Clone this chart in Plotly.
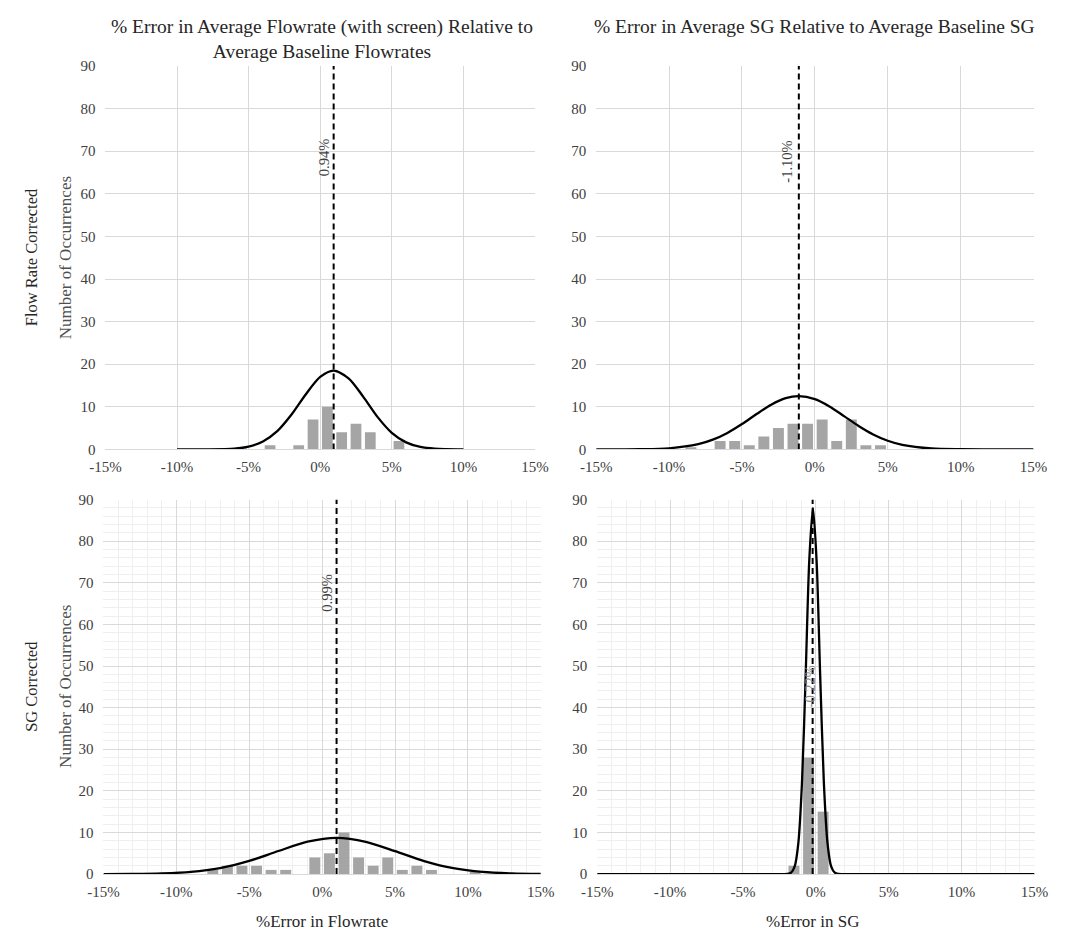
import plotly.graph_objects as go

# ---------------- data ----------------
# bin centres (% error) and counts
tl_bins = [-5.5, -3.5, -1.5, -0.5, 0.5, 1.5, 2.5, 3.5, 5.5]
tl_counts = [0.5, 1, 1, 7, 10, 4, 6, 4, 2]
tr_bins = [-8.5, -6.5, -5.5, -4.5, -3.5, -2.5, -1.5, -0.5, 0.5, 1.5, 2.5, 3.5, 4.5]
tr_counts = [0.5, 2, 2, 1, 3, 5, 6, 6, 7, 2, 7, 1, 1]
bl_bins = [-7.5, -6.5, -5.5, -4.5, -3.5, -2.5, -0.5, 0.5, 1.5, 2.5, 3.5, 4.5, 5.5, 6.5, 7.5, 10.5]
bl_counts = [1, 2, 2, 2, 1, 1, 4, 5, 10, 4, 2, 4, 1, 2, 1, 0.5]
br_bins = [-1.5, -0.5, 0.5]
br_counts = [2, 28, 15]

# normal-fit curves, points
tl_curve_x = [-10, -8, -6, -5, -4, -3, -2, -1, 0, 0.94, 2, 3, 4, 5, 6, 7, 8, 10]
tl_curve_y = [0, 0.01, 0.19, 0.66, 1.84, 4.27, 8.18, 12.96, 17.02, 18.5, 16.63, 12.39, 7.64, 3.9, 1.65, 0.57, 0.17, 0]
tr_curve_x = [-15, -12, -10, -8, -7, -6, -5, -4, -3, -2, -1.1, 0, 1, 2, 3, 4, 5, 6, 8, 10, 12, 15]
tr_curve_y = [0, 0.04, 0.26, 1.22, 2.28, 3.87, 5.95, 8.29, 10.48, 12.02, 12.5, 11.78, 10.08, 7.82, 5.5, 3.51, 2.03, 1.07, 0.22, 0.03, 0, 0]
bl_curve_x = [-15, -13, -11, -9, -7, -5, -3, -1, 0.99, 3, 5, 7, 9, 11, 13, 15]
bl_curve_y = [0.01, 0.03, 0.15, 0.51, 1.42, 3.15, 5.54, 7.78, 8.7, 7.76, 5.52, 3.13, 1.41, 0.51, 0.15, 0.03]
br_curve_x = [-15, -5, -2.2, -1.95, -1.7, -1.45, -1.2, -0.95, -0.7, -0.45, -0.2, 0.05, 0.3, 0.55, 0.8, 1.05, 1.3, 1.55, 1.8, 5, 15]
br_curve_y = [0, 0, 0, 0.05, 0.34, 1.86, 7.45, 21.95, 47.5, 75.4, 88, 75.4, 47.5, 21.95, 7.45, 1.86, 0.34, 0.05, 0, 0, 0]

means = [0.94, -1.10, 0.99, -0.22]
mean_labels = ["0.94%", "-1.10%", "0.99%", "-0.22%"]
mean_label_y = [68.5, 67.5, 67.5, 45]

x_ticks = [-15, -10, -5, 0, 5, 10, 15]
x_tick_text = ["-15%", "-10%", "-5%", "0%", "5%", "10%", "15%"]
y_ticks = [0, 10, 20, 30, 40, 50, 60, 70, 80, 90]

titles = ["% Error in Average Flowrate (with screen) Relative to<br>Average Baseline Flowrates",
          "% Error in Average SG Relative to Average Baseline SG"]
row_labels = ["Flow Rate Corrected", "SG Corrected"]
y_title = "Number of Occurrences"
x_titles = ["%Error in Flowrate", "%Error in SG"]

# ---------------- figure ----------------
W, H = 1066, 945
FONT = "Liberation Serif, Times New Roman, serif"
BAR = "#a5a5a5"
TXT = "#262626"
TICK = "#404040"

def px(v):
    return v / W

def py(v):
    return 1 - v / H

# pixel boxes of plot areas: (left, right, top, bottom)
boxes = [(92, 534, 59, 449), (597, 1047, 59, 449), (90, 540, 500, 881), (598, 1048, 500, 881)]
panels = [(tl_bins, tl_counts, tl_curve_x, tl_curve_y),
          (tr_bins, tr_counts, tr_curve_x, tr_curve_y),
          (bl_bins, bl_counts, bl_curve_x, bl_curve_y),
          (br_bins, br_counts, br_curve_x, br_curve_y)]
label_shift = [-10, -12, -9, -3]

fig = go.Figure()
for i, (bins, counts, cx, cy) in enumerate(panels):
    n = "" if i == 0 else str(i + 1)
    xa, ya = "x" + n, "y" + n
    fig.add_trace(go.Bar(x=bins, y=counts, width=0.75, marker=dict(color=BAR, line=dict(width=0)),
                         xaxis=xa, yaxis=ya, showlegend=False, hoverinfo="skip"))
    fig.add_trace(go.Scatter(x=cx, y=cy, mode="lines", line=dict(color="black", width=2.3, shape="spline", smoothing=0.8),
                             xaxis=xa, yaxis=ya, showlegend=False, hoverinfo="skip"))
    fig.add_trace(go.Scatter(x=[means[i], means[i]], y=[0, 90], mode="lines",
                             line=dict(color="black", width=2, dash="6px,4px"),
                             xaxis=xa, yaxis=ya, showlegend=False, hoverinfo="skip"))
    l, r, t, b = boxes[i]
    minor = i >= 2
    xdict = dict(domain=[px(l), px(r)], range=[-15, 15], tickvals=x_ticks, ticktext=x_tick_text,
                 showgrid=True, gridcolor="#d9d9d9", gridwidth=1, zeroline=False,
                 showline=True, linecolor="#d9d9d9", linewidth=1, ticklabelstandoff=4,
                 tickfont=dict(family=FONT, size=15, color=TICK), anchor=ya, fixedrange=True)
    ydict = dict(domain=[py(b), py(t)], range=[0, 90], tickvals=y_ticks,
                 showgrid=True, gridcolor="#d9d9d9", gridwidth=1, zeroline=False,
                 showline=False, ticklabelstandoff=9,
                 tickfont=dict(family=FONT, size=15, color=TICK), anchor=xa, fixedrange=True)
    if minor:
        xdict["minor"] = dict(dtick=1, showgrid=True, gridcolor="#efefef", gridwidth=1)
        ydict["minor"] = dict(dtick=2, showgrid=True, gridcolor="#efefef", gridwidth=1)
    fig.layout["xaxis" + n] = xdict
    fig.layout["yaxis" + n] = ydict

annotations = []
# mean labels
for i in range(4):
    n = "" if i == 0 else str(i + 1)
    annotations.append(dict(x=means[i], y=mean_label_y[i], xref="x" + n, yref="y" + n,
                            text=mean_labels[i], textangle=-90, showarrow=False, xshift=label_shift[i],
                            xanchor="center", yanchor="middle",
                            font=dict(family=FONT, size=14.5, color=TICK if i < 3 else "#8c8c8c")))
# titles
annotations.append(dict(x=px(315), y=py(6), xref="paper", yref="paper", text=titles[0], showarrow=False,
                        xanchor="center", yanchor="top", font=dict(family=FONT, size=19.5, color=TXT)))
annotations.append(dict(x=px(822), y=py(6), xref="paper", yref="paper", text=titles[1], showarrow=False,
                        xanchor="center", yanchor="top", font=dict(family=FONT, size=19.5, color=TXT)))
# row labels
row_y = [254, 690]
for k in range(2):
    annotations.append(dict(x=px(16), y=py(row_y[k]), xref="paper", yref="paper", text=row_labels[k], textangle=-90,
                            xanchor="center", yanchor="middle", showarrow=False,
                            font=dict(family=FONT, size=16.5, color=TXT)))
    annotations.append(dict(x=px(51), y=py(row_y[k]), xref="paper", yref="paper", text=y_title, textangle=-90,
                            xanchor="center", yanchor="middle", showarrow=False,
                            font=dict(family=FONT, size=17, color="#505050")))
# x axis titles
annotations.append(dict(x=px(315), y=py(929), xref="paper", yref="paper", text=x_titles[0],
                        xanchor="center", yanchor="middle", showarrow=False, font=dict(family=FONT, size=17, color=TXT)))
annotations.append(dict(x=px(820), y=py(929), xref="paper", yref="paper", text=x_titles[1],
                        xanchor="center", yanchor="middle", showarrow=False, font=dict(family=FONT, size=17, color=TXT)))

fig.update_layout(width=W, height=H, margin=dict(l=0, r=0, t=0, b=0),
                  paper_bgcolor="white", plot_bgcolor="white", annotations=annotations,
                  barmode="overlay", font=dict(family=FONT), hovermode=False)
fig.write_html("out.html", config={"displayModeBar": False},
               post_script="document.body.style.margin='0';document.body.style.overflow='hidden';")
